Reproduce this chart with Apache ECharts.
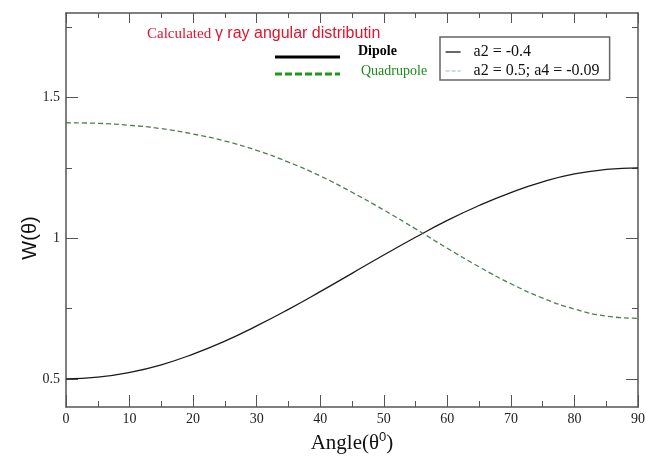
<!DOCTYPE html>
<html>
<head>
<meta charset="utf-8">
<script src="https://cdn.jsdelivr.net/npm/echarts@6/dist/echarts.min.js"></script>
<style>html,body{margin:0;padding:0;background:#fff}#c{width:648px;height:459px}</style>
</head>
<body>
<div id="c"></div>
<script>
// Data
const angles = [0, 5, 10, 15, 20, 25, 30, 35, 40, 45, 50, 55, 60, 65, 70, 75, 80, 85, 90];
const dipole = [0.500, 0.506, 0.523, 0.550, 0.588, 0.634, 0.688, 0.747, 0.810, 0.875, 0.940, 1.003, 1.063, 1.116, 1.162, 1.200, 1.228, 1.244, 1.250];
const quadrupole = [1.410, 1.408, 1.401, 1.389, 1.370, 1.345, 1.312, 1.270, 1.221, 1.163, 1.100, 1.033, 0.964, 0.898, 0.838, 0.787, 0.748, 0.723, 0.715];
const seriesNames = ['a2 = -0.4', 'a2 = 0.5; a4 = -0.09'];
const yMajorTicks = [0.5, 1, 1.5];
const yMinorTicks = [0.75, 1.25, 1.75];

const axisColor = '#555';
const serif = 'Liberation Serif';
const sans = 'Liberation Sans';

const chart = echarts.init(document.getElementById('c'));

function yAx(pos, ticks, len, showLine, showLabel) {
  return {
    type: 'value', position: pos, min: 0.4, max: 1.8,
    axisLine: { show: showLine, lineStyle: { color: axisColor, width: 1.5 } },
    axisTick: { show: true, inside: true, length: len, customValues: ticks, lineStyle: { color: axisColor, width: 1 } },
    axisLabel: showLabel ? { show: true, customValues: ticks, margin: 6, fontFamily: serif, fontSize: 14, color: '#222' } : { show: false },
    splitLine: { show: false }
  };
}
function xAx(pos, showLabel, len) {
  return {
    type: 'value', position: pos, min: 0, max: 90, interval: 10,
    axisLine: { show: true, lineStyle: { color: axisColor, width: 1.5 } },
    axisTick: { show: true, inside: true, length: len, lineStyle: { color: axisColor, width: 1 } },
    minorTick: { show: true, splitNumber: 2, length: len / 2, lineStyle: { color: axisColor, width: 1 } },
    axisLabel: showLabel ? { show: true, margin: 5, fontFamily: serif, fontSize: 14, color: '#222' } : { show: false },
    splitLine: { show: false }, minorSplitLine: { show: false }
  };
}

chart.setOption({
  animation: false,
  backgroundColor: '#fff',
  grid: { left: 66, right: 8, top: 13, bottom: 52, containLabel: false },
  xAxis: [xAx('bottom', true, 12), xAx('top', false, 10)],
  yAxis: [
    yAx('left', yMajorTicks, 12, true, true),
    yAx('left', yMinorTicks, 6, false, false),
    yAx('right', yMajorTicks, 12, true, false),
    yAx('right', yMinorTicks, 6, false, false)
  ],
  legend: {
    show: true, type: 'plain',
    orient: 'vertical', left: 440, top: 37,
    padding: [7, 10, 1, 5], itemGap: 3, itemWidth: 15, itemHeight: 14,
    borderColor: '#666', borderWidth: 1.5,
    textStyle: { fontFamily: serif, fontSize: 16, lineHeight: 16, color: '#111', padding: [0, 0, 0, 8] },
    data: [
      { name: seriesNames[0], itemStyle: { color: 'rgba(0,0,0,0)', borderWidth: 0 }, lineStyle: { color: '#000', width: 1.2, opacity: 1 } },
      { name: seriesNames[1], itemStyle: { color: 'rgba(0,0,0,0)', borderWidth: 0 }, lineStyle: { color: '#88c0c4', width: 1.2, opacity: 1, type: [4, 2] } }
    ]
  },
  series: [
    { name: seriesNames[0], type: 'line', smooth: true, symbol: 'none', showSymbol: false, xAxisIndex: 0, yAxisIndex: 0,
      data: angles.map((a, i) => [a, dipole[i]]), lineStyle: { color: '#1a1a1a', width: 1.3 }, itemStyle: { color: '#1a1a1a' } },
    { name: seriesNames[1], type: 'line', smooth: true, symbol: 'none', showSymbol: false, xAxisIndex: 0, yAxisIndex: 0,
      data: angles.map((a, i) => [a, quadrupole[i]]), lineStyle: { color: '#4f7f55', width: 1.3, type: [5, 3] }, itemStyle: { color: '#4f7f55' } }
  ],
  graphic: [
    { type: 'text', left: 147, top: 26, style: {
        text: '{a|Calculated }{b|γ ray angular distributin}',
        rich: { a: { fontFamily: serif, fontSize: 15, fill: '#e0142c' }, b: { fontFamily: sans, fontSize: 16, fill: '#e0142c' } } } },
    { type: 'line', shape: { x1: 275, y1: 57, x2: 340, y2: 57 }, style: { stroke: '#000', lineWidth: 3 } },
    { type: 'line', shape: { x1: 275, y1: 74, x2: 340, y2: 74 }, style: { stroke: '#1a9a1a', lineWidth: 3, lineDash: [7, 3] } },
    { type: 'text', left: 358, top: 44, style: { text: 'Dipole', fontFamily: serif, fontSize: 14, fontWeight: 'bold', fill: '#000' } },
    { type: 'text', left: 361, top: 64, style: { text: 'Quadrupole', fontFamily: serif, fontSize: 14, fill: '#1a8a1a' } },
    { type: 'text', x: 352, y: 442, style: {
        text: '{a|Angle(θ}{s|0}{a|)}', align: 'center', verticalAlign: 'middle',
        rich: { a: { fontFamily: serif, fontSize: 21, fill: '#111', verticalAlign: 'bottom' }, s: { fontFamily: sans, fontSize: 13, fill: '#111', verticalAlign: 'top', padding: [0, 0, 10, 0] } } } },
    { type: 'text', x: 30, y: 238, rotation: Math.PI / 2, style: {
        text: 'W(θ)', align: 'center', verticalAlign: 'middle', fontFamily: sans, fontSize: 20, fill: '#111' } }
  ]
});
</script>
</body>
</html>
